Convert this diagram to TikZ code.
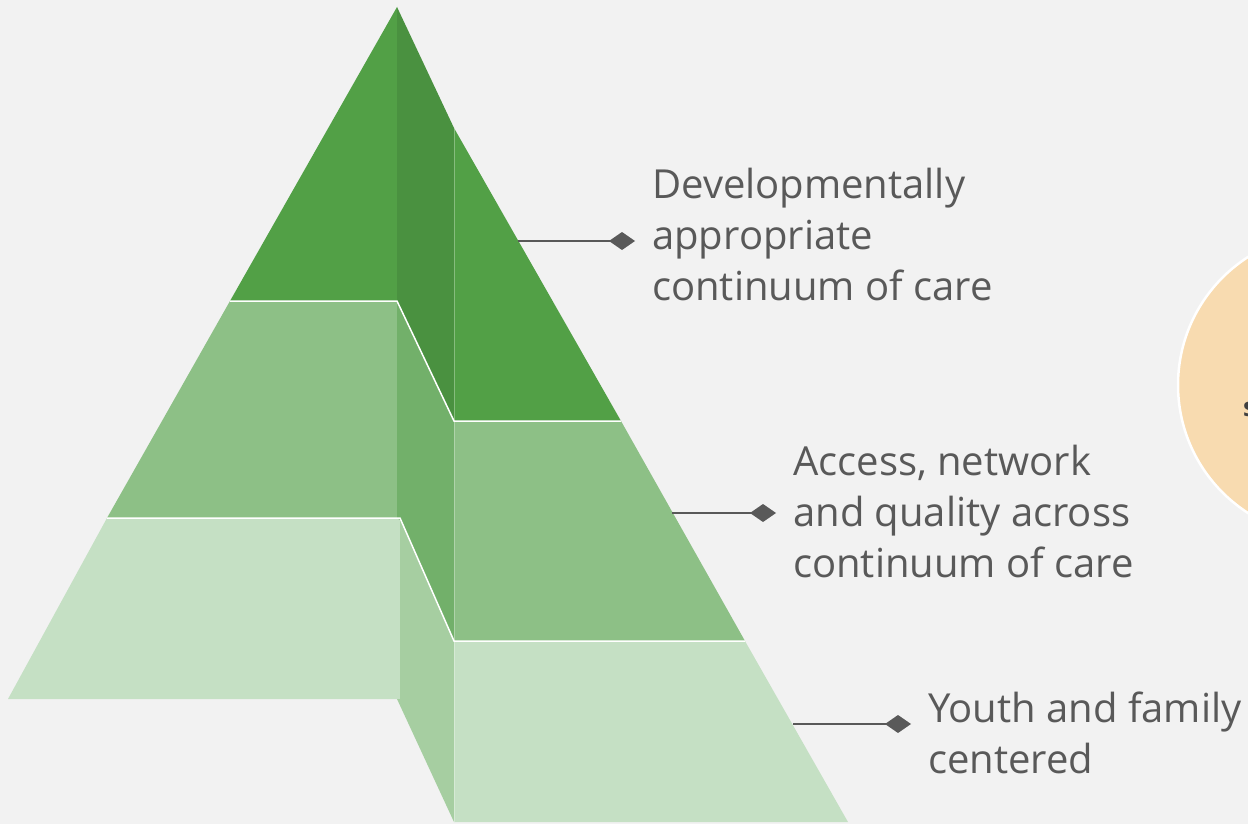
\documentclass[tikz,border=0pt]{standalone}
\usepackage{fontspec}
\setmainfont{Open Sans}
\usetikzlibrary{arrows.meta}
\definecolor{bg}{HTML}{F2F2F2}
\definecolor{topgreen}{HTML}{52A046}
\definecolor{topside}{HTML}{4A9140}
\definecolor{midgreen}{HTML}{8DC086}
\definecolor{midside}{HTML}{72B06A}
\definecolor{lowgreen}{HTML}{C5E0C4}
\definecolor{lowside}{HTML}{A6CEA1}
\definecolor{labelgray}{HTML}{595959}
\definecolor{peach}{HTML}{F8DBB0}
\begin{document}
\begin{tikzpicture}[x=1pt,y=-1pt,
  tiertext/.style={anchor=base west,align=left,inner sep=0pt,text=labelgray,font=\fontsize{40}{51}\selectfont},
  tierpointer/.style={draw=labelgray,line width=2.5pt,shorten >=17pt,-{Diamond[length=26pt,width=18pt]}},
  tierline/.style={draw=white,line width=1.5pt}]
\fill[bg] (0,0) rectangle (1248,824);
\useasboundingbox (0,0) rectangle (1248,824);

\node[circle,fill=peach,draw=white,line width=2.5pt,minimum size=304pt] (goal) at (1330,385) {};
\node[anchor=base west,inner sep=0pt,text=black!75,font=\fontsize{26}{30}\selectfont\bfseries] (goaltext) at (1243,416) {s};

\fill[topgreen] (397,7) -- (230,301) -- (397,301) -- cycle;
\fill[midgreen] (230,301) -- (107,518) -- (397,518) -- (397,301) -- cycle;
\fill[lowgreen] (107,518) -- (8,699) -- (400,699) -- (400,518) -- cycle;

\fill[topside] (397,7) -- (454,128) -- (454,421) -- (397,301) -- cycle;
\fill[midside] (397,301) -- (454,421) -- (454,641) -- (400,520) -- (397,518) -- cycle;
\fill[lowside] (400,518) -- (454,641) -- (454,822) -- (397,699) -- (400,699) -- cycle;

\fill[topgreen] (454,128) -- (621,421) -- (454,421) -- cycle;
\fill[midgreen] (454,421) -- (621,421) -- (745,641) -- (454,641) -- cycle;
\fill[lowgreen] (454,641) -- (745,641) -- (848,822) -- (454,822) -- cycle;

\draw[white,opacity=0.3,line width=1pt] (454,128) -- (454,822);
\draw[tierline] (230,301) -- (397,301) -- (454,421) -- (621,421);
\draw[tierline] (107,518) -- (400,518) -- (454,641) -- (745,641);

\node[tiertext] (top) at (652,300) {Developmentally\\appropriate\\continuum of care};
\node[tiertext] (mid) at (793,577) {Access, network\\and quality across\\continuum of care};
\node[tiertext] (low) at (928,773) {Youth and family\\centered};

\coordinate (topedge) at (518,241);
\coordinate (midedge) at (672,513);
\coordinate (lowedge) at (793,724);

\draw[tierpointer] (topedge) -- (topedge -| top.west);
\draw[tierpointer] (midedge) -- (midedge -| mid.west);
\draw[tierpointer] (lowedge) -- (lowedge -| low.west);
\end{tikzpicture}
\end{document}
